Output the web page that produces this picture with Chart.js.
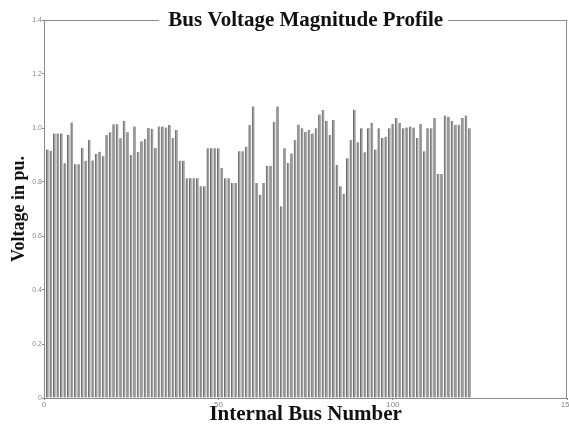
<!DOCTYPE html>
<html>
<head>
<meta charset="utf-8">
<script src="https://cdn.jsdelivr.net/npm/chart.js@4"></script>
<style>
html,body{margin:0;padding:0;background:#fff;overflow:hidden;width:569px;height:424px;}
#wrap{position:absolute;left:0;top:0;width:574px;height:424px;}
</style>
</head>
<body>
<div id="wrap"><canvas id="c" width="574" height="424"></canvas></div>
<script>
const titleText = 'Bus Voltage Magnitude Profile';
const xTitle = 'Internal Bus Number';
const yTitle = 'Voltage in pu.';
const xTicks = [0, 50, 100, 150];
const yTicks = [0, 0.2, 0.4, 0.6, 0.8, 1, 1.2, 1.4];
const busNumbers = [
  1,2,3,4,5,6,7,8,9,10,11,12,13,14,15,16,17,18,19,20,
  21,22,23,24,25,26,27,28,29,30,31,32,33,34,35,36,37,38,39,40,
  41,42,43,44,45,46,47,48,49,50,51,52,53,54,55,56,57,58,59,60,
  61,62,63,64,65,66,67,68,69,70,71,72,73,74,75,76,77,78,79,80,
  81,82,83,84,85,86,87,88,89,90,91,92,93,94,95,96,97,98,99,100,
  101,102,103,104,105,106,107,108,109,110,111,112,113,114,115,116,117,118,119,120,
  121,122
];
const voltages = [
  0.920,0.916,0.980,0.980,0.980,0.869,0.975,1.020,0.866,0.866,
  0.926,0.879,0.956,0.880,0.904,0.912,0.895,0.974,0.984,1.014,
  1.014,0.962,1.027,0.984,0.900,1.006,0.912,0.951,0.959,1.000,
  0.996,0.926,1.006,1.006,1.002,1.011,0.963,0.993,0.879,0.879,
  0.814,0.814,0.814,0.814,0.784,0.784,0.925,0.925,0.925,0.925,
  0.852,0.814,0.814,0.796,0.796,0.914,0.914,0.931,1.011,1.080,
  0.796,0.753,0.796,0.860,0.860,1.023,1.080,0.710,0.925,0.870,
  0.906,0.956,1.012,0.999,0.986,0.993,0.980,0.999,1.050,1.067,
  1.027,0.974,1.030,0.863,0.784,0.756,0.888,0.956,1.068,0.947,
  0.999,0.910,0.999,1.019,0.920,0.999,0.963,0.968,0.999,1.015,
  1.037,1.019,0.999,1.002,1.006,1.002,0.963,1.015,0.914,0.999,
  0.999,1.037,0.830,0.830,1.046,1.042,1.027,1.012,1.012,1.037,
  1.046,0.999
];

const framePlugin = {
  id: 'frame',
  afterDraw(chart) {
    const {ctx, chartArea: a} = chart;
    ctx.save();
    ctx.font = 'bold 21px "Liberation Serif", "Times New Roman", serif';
    const w = ctx.measureText(titleText).width;
    const cx = (a.left + a.right) / 2;
    const tl = cx - w / 2, tr = cx + w / 2;
    ctx.strokeStyle = '#8a8a8a';
    ctx.lineWidth = 1;
    ctx.beginPath();
    const ty = Math.round(a.top) + 0.5;
    ctx.moveTo(a.left, ty); ctx.lineTo(tl - 9, ty);
    ctx.moveTo(tr + 5, ty); ctx.lineTo(a.right, ty);
    const rx = Math.round(a.right) - 0.5;
    ctx.moveTo(rx, a.top); ctx.lineTo(rx, a.bottom);
    ctx.stroke();
    ctx.fillStyle = '#111';
    ctx.textAlign = 'center';
    ctx.textBaseline = 'middle';
    ctx.fillText(titleText, cx, a.top + 1);
    ctx.restore();
  }
};

new Chart(document.getElementById('c'), {
  type: 'bar',
  data: {
    datasets: [{
      data: busNumbers.map((b, i) => ({x: b, y: voltages[i]})),
      backgroundColor: '#a0a0a0',
      borderColor: '#6a6a6a',
      borderWidth: {left: 1, right: 0, top: 0, bottom: 0},
      barThickness: 2.4
    }]
  },
  options: {
    responsive: false,
    animation: false,
    layout: {padding: {top: 20, left: 0, right: 0, bottom: 0}},
    plugins: {legend: {display: false}, tooltip: {enabled: false}, title: {display: false}},
    scales: {
      x: {
        type: 'linear',
        offset: false,
        min: 0, max: 150,
        afterBuildTicks: s => { s.ticks = xTicks.map(v => ({value: v})); },
        afterFit: s => { s.height = 26; },
        grid: {display: true, drawOnChartArea: false, drawTicks: true, tickLength: 2, color: '#8a8a8a', offset: false},
        border: {display: true, color: '#8a8a8a'},
        ticks: {color: '#888', font: {size: 8, family: 'Liberation Sans'}, padding: 0, maxRotation: 0},
        title: {display: true, text: xTitle, color: '#111', padding: {top: 0, bottom: -3},
          font: {family: '"Liberation Serif", "Times New Roman", serif', size: 21, weight: 'bold'}}
      },
      y: {
        min: 0, max: 1.4,
        afterBuildTicks: s => { s.ticks = yTicks.map(v => ({value: v})); },
        afterFit: s => { s.width = 44; },
        grid: {display: true, drawOnChartArea: false, drawTicks: true, tickLength: 2, color: '#8a8a8a'},
        border: {display: true, color: '#8a8a8a'},
        ticks: {color: '#888', font: {size: 7, family: 'Liberation Sans'}, padding: 0},
        title: {display: true, text: yTitle, color: '#111', padding: {top: 9, bottom: 0},
          font: {family: '"Liberation Serif", "Times New Roman", serif', size: 18, weight: 'bold'}}
      }
    }
  },
  plugins: [framePlugin]
});
</script>
</body>
</html>
